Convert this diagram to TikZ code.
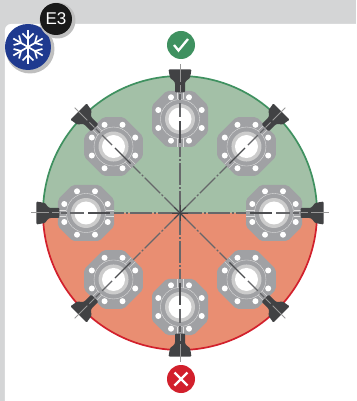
\documentclass[tikz,border=0pt]{standalone}
\usepackage{fontspec}
\setmainfont{Liberation Sans}
\definecolor{bgGray}{HTML}{D4D5D6}
\definecolor{upFill}{HTML}{A3C0A7}
\definecolor{lowFill}{HTML}{E98E72}
\definecolor{okGreen}{HTML}{3F9160}
\definecolor{noRed}{HTML}{D2202C}
\definecolor{flangeGray}{HTML}{A0A1A4}
\definecolor{darkBody}{HTML}{414244}
\definecolor{spokeGray}{HTML}{66676A}
\definecolor{snowBlue}{HTML}{1F3A8F}
\tikzset{
  x=1pt,y=1pt,
  spoke/.style={draw=spokeGray,line width=1.1pt,dash pattern=on 22pt off 2pt on 2pt off 2pt},
  badgeshadow/.style={fill=black!25,draw=none},
  flakearm/.style={draw=white,line width=1.7pt,line cap=butt},
  marksign/.style={draw=white,line width=2.3pt},
  tagtext/.style={text=white,font=\fontsize{17}{17}\selectfont,inner sep=0pt}
}
\newcommand{\valveunit}[1]{%
  \begin{scope}[rotate=#1]
    % flange
    \fill[flangeGray,rounded corners=2pt] (-13.5,94+28) -- (13.5,94+28) -- (28,94+13.5) -- (28,94-13.5) -- (13.5,94-28) -- (-13.5,94-28) -- (-28,94-13.5) -- (-28,94+13.5) -- cycle;
    \draw[black!12,line width=.35pt] (0,94) circle[radius=19.5];
    \draw[black!12,line width=.35pt] (-3,94+19.5) -- (-3,94+28) (3,94+19.5) -- (3,94+28);
    \draw[black!12,line width=.35pt] (-3,94-19.5) -- (-3,94-28) (3,94-19.5) -- (3,94-28);
    \fill[black!20] (0,94) circle[radius=15];
    \fill[white] (0,94) circle[radius=11.5];
    \foreach \b in {22.5,67.5,...,337.5}{\fill[white] (0,94) ++(\b:23.5) circle[radius=3];}
    % actuator
    \fill[darkBody,rounded corners=1pt] (-5,120.5) -- (5,120.5) -- (5,130) -- (6,132) -- (10,135) -- (11.5,143.5) -- (-11.5,143.5) -- (-10,135) -- (-6,132) -- (-5,130) -- cycle;
    % axis
    \path[spoke] (0,0) -- (0,66);
    \draw[spokeGray!75!black,line width=1.1pt] (0,70) -- (0,92);
    \draw[spokeGray,line width=1.1pt] (0,96) -- (0,110);
    \draw[spokeGray,line width=1.1pt] (0,113) -- (0,119);
    \draw[black!40,line width=1pt] (0,121) -- (0,128) (0,131) -- (0,149);
  \end{scope}}
\begin{document}
\begin{tikzpicture}
\useasboundingbox (-180,-188) rectangle (176,213);
\fill[bgGray] (-180,-188) rectangle (176,213);
\fill[white,rounded corners=6pt] (-175,-194) rectangle (190,189);
% disc
\fill[upFill] (-137,0) arc[start angle=180,end angle=0,radius=137] -- cycle;
\fill[lowFill] (-137,0) arc[start angle=180,end angle=360,radius=137] -- cycle;
\draw[okGreen,line width=1.7pt] (-137,0) arc[start angle=180,end angle=0,radius=137];
\draw[noRed,line width=1.7pt] (-137,0) arc[start angle=180,end angle=360,radius=137];
% units
\foreach \a in {0,45,...,315}{\valveunit{\a}}
% hub
\foreach \a in {0,45,...,135}{\draw[darkBody,line width=.8pt] (\a:8) -- (\a+180:8);}
% status marks
\node[circle,fill=okGreen,minimum size=28pt,inner sep=0pt] (okmark) at (1,168) {};
\draw[marksign] (-6,168) -- (-1.5,162.5) -- (8,174);
\node[circle,fill=noRed,minimum size=28pt,inner sep=0pt] (nomark) at (1,-166) {};
\draw[marksign] (-5.5,-159.5) -- (7.5,-172.5) (-5.5,-172.5) -- (7.5,-159.5);
% badges
\fill[badgeshadow] (-150,164) circle[radius=24.5];
\node[circle,fill=snowBlue,minimum size=46pt,inner sep=0pt] (snow) at (-152,166) {};
\foreach \a in {30,90,...,330}{
  \begin{scope}[shift={(snow.center)},rotate=\a]
    \draw[flakearm] (0,0) -- (17,0);
    \draw[flakearm] (13.5,5.5) -- (8,0) -- (13.5,-5.5);
  \end{scope}}
\fill[badgeshadow] (-122.5,192.5) circle[radius=18];
\node[circle,fill=black!90,minimum size=32pt,inner sep=0pt,tagtext] (tag) at (-124,194) {E3};
\end{tikzpicture}
\end{document}
